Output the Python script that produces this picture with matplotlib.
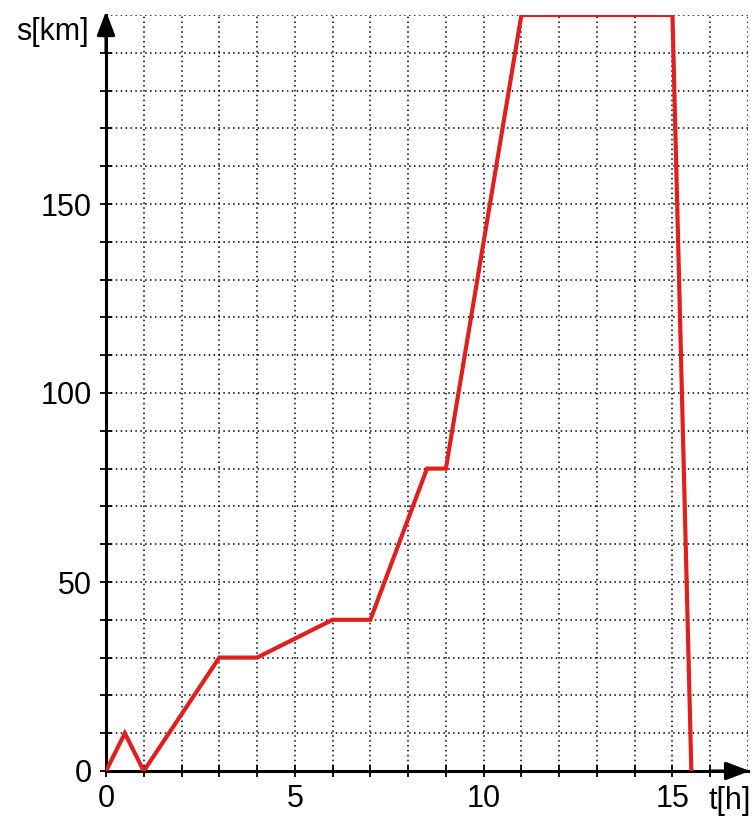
import numpy as np
import matplotlib.pyplot as plt

plt.rcParams['font.family'] = ['Liberation Sans', 'DejaVu Sans']

t = [0, 0.5, 1, 3, 4, 6, 7, 8.5, 9, 11, 15, 15.5]
s = [0, 10, 0, 30, 30, 40, 40, 80, 80, 200, 200, 0]

x_ticks = [0, 5, 10, 15]
y_ticks = [0, 50, 100, 150]

fig = plt.figure(figsize=(7.54, 8.16), dpi=100)
ax = fig.add_axes([106 / 754, 45 / 816, 642 / 754, 756 / 816])

ax.set_xlim(0, 17)
ax.set_ylim(0, 200)

# dotted grid
for xv in range(1, 18):
    ax.axvline(xv, color="black", linestyle=(0, (1, 2.2)), linewidth=1.1, zorder=1)
for yv in range(10, 201, 10):
    ax.axhline(yv, color="black", linestyle=(0, (1, 2.2)), linewidth=1.1, zorder=1)

ax.plot(t, s, color="#e0201e", linewidth=3, zorder=3, solid_joinstyle="miter")

for side in ["top", "right"]:
    ax.spines[side].set_visible(False)
for side in ["left", "bottom"]:
    ax.spines[side].set_linewidth(2.2)
    ax.spines[side].set_zorder(2)

ax.set_xticks(range(0, 17))
ax.set_xticklabels([str(v) if v in x_ticks else "" for v in range(0, 17)])
ax.set_yticks(range(0, 200, 10))
ax.set_yticklabels([str(v) if v in y_ticks else "" for v in range(0, 200, 10)])
ax.tick_params(direction="inout", length=9, width=1.3, labelsize=22, pad=5)
ax.tick_params(axis="y", pad=6)

# arrows
for tip, tail in [((17.05, 0), (16, 0)), ((0, 201), (0, 190))]:
    ax.annotate("", xy=tip, xytext=tail,
                arrowprops=dict(arrowstyle="-|>,head_length=1.45,head_width=0.55",
                                color="black", lw=2.2, shrinkA=0, shrinkB=0),
                annotation_clip=False)

ax.text(-0.45, 195.5, "s[km]", fontsize=22, ha="right", va="center")
ax.text(16.52, -7.9, "t[h]", fontsize=22, ha="center", va="center")

fig.savefig("out.png", dpi=100)
